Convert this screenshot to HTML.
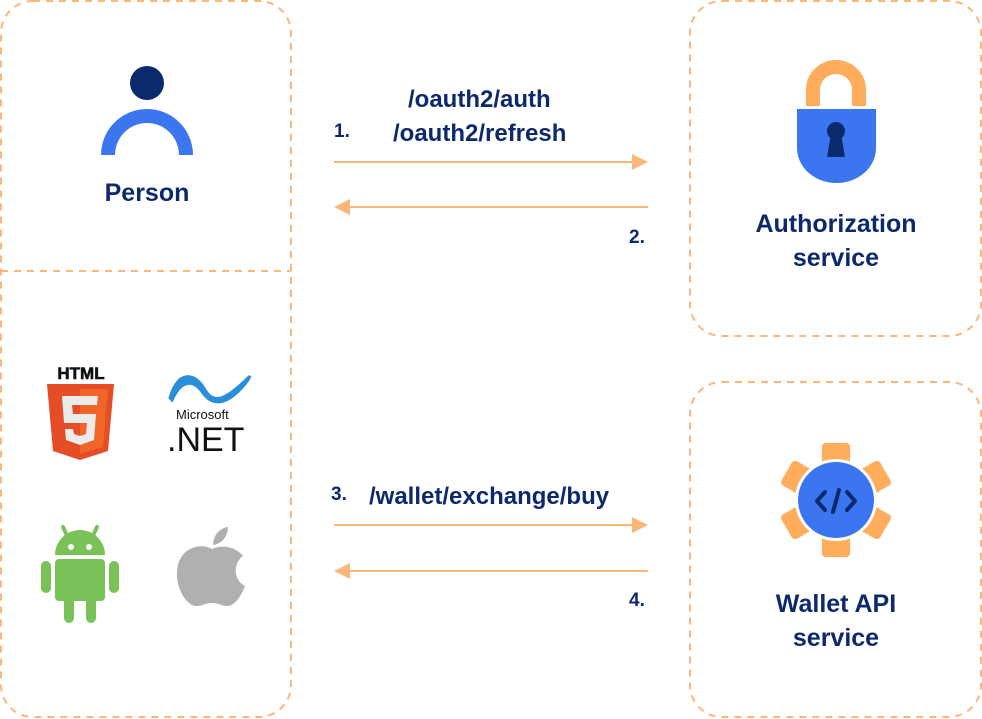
<!DOCTYPE html>
<html><head><style>
html,body{margin:0;padding:0;background:#fff;}
body{width:982px;height:719px;position:relative;overflow:hidden;font-family:"Liberation Sans",sans-serif;}
.t{position:absolute;color:#0c2a6b;font-weight:bold;font-size:25px;white-space:nowrap;}
.c{width:300px;text-align:center;}
</style></head><body>
<svg width="982" height="719" style="position:absolute;left:0;top:0">
<g fill="none" stroke="#fbb77a" stroke-width="2" stroke-dasharray="7,6">
<rect x="1" y="1" width="290" height="716" rx="32"/>
<line x1="1" y1="271" x2="291" y2="271"/>
<rect x="690" y="1" width="291" height="335" rx="32"/>
<rect x="690" y="382" width="291" height="335" rx="32"/>
</g>
<g stroke="#fbb77a" stroke-width="2" fill="#fbb77a">
<line x1="334" y1="162" x2="634" y2="162"/><polygon points="648,162 632,154 632,170" stroke="none"/>
<line x1="350" y1="207" x2="648" y2="207"/><polygon points="334,207 350,199 350,215" stroke="none"/>
<line x1="334" y1="525" x2="634" y2="525"/><polygon points="648,525 632,517 632,533" stroke="none"/>
<line x1="350" y1="571" x2="648" y2="571"/><polygon points="334,571 350,563 350,579" stroke="none"/>
</g>
<!-- person -->
<circle cx="147" cy="83" r="17" fill="#0a2a6e"/>
<path d="M101,155 A46,46 0 0 1 193,155 L179,155 A32,32 0 0 0 115,155 Z" fill="#3b75f0"/>
<!-- lock -->
<path d="M813,106 V90 A23,23 0 0 1 859,90 V106" fill="none" stroke="#ffad5c" stroke-width="14"/>
<path d="M797,109 H876 V148 A39.5,35 0 0 1 797,148 Z" fill="#3b75f0"/>
<circle cx="836" cy="131" r="9" fill="#0a2a6e"/>
<polygon points="831,134 841,134 845,157 827,157" fill="#0a2a6e"/>
<!-- gear -->
<g fill="#ffad5c">
<g transform="translate(836,500)">
<rect x="-14" y="-57" width="28" height="34" rx="4"/>
<rect x="-14" y="-57" width="28" height="34" rx="4" transform="rotate(60)"/>
<rect x="-14" y="-57" width="28" height="34" rx="4" transform="rotate(120)"/>
<rect x="-14" y="-57" width="28" height="34" rx="4" transform="rotate(180)"/>
<rect x="-14" y="-57" width="28" height="34" rx="4" transform="rotate(240)"/>
<rect x="-14" y="-57" width="28" height="34" rx="4" transform="rotate(300)"/>
</g></g>
<circle cx="836" cy="500" r="41" fill="#fff"/>
<circle cx="836" cy="500" r="38" fill="#3b75f0"/>
<g fill="none" stroke="#0a2a6e" stroke-width="4" stroke-linecap="round" stroke-linejoin="round">
<polyline points="825,492 817,501 825,510"/><polyline points="847,492 855,501 847,510"/><line x1="839" y1="490" x2="833" y2="512"/>
</g>
<!-- html5 -->
<text x="81" y="379" font-family="Liberation Sans" font-weight="900" font-size="17" text-anchor="middle" fill="#111" stroke="#111" stroke-width="0.6">HTML</text>
<polygon points="47,384 114,384 108,451 80,460 53,451" fill="#e44d26"/>
<polygon points="80,389 108,389 103,447 80,454" fill="#f16529"/>
<path d="M62,396 H98 L97,405 H72 L73,414 H96 L94,440 L80,445 L66,440 L65,429 H73 L74,434 L80,436 L86,434 L87,423 H64 Z" fill="#ebebeb"/>
<!-- .net -->
<path d="M170,398 C178,370 195,372 205,390 C214,405 226,400 250,376 L248,380 C230,404 214,408 203,393 C194,380 182,378 172,400 Z" fill="#2a8fd8" stroke="#2a8fd8" stroke-width="3"/>
<text x="176" y="419" font-family="Liberation Sans" font-size="13" fill="#111">Microsoft</text>
<text x="167" y="451" font-family="Liberation Sans" font-size="34" fill="#111">.NET</text>
<!-- android -->
<g fill="#78c257">
<path d="M55,555 A25,25 0 0 1 105,555 Z"/>
<line x1="63" y1="527" x2="69" y2="540" stroke="#78c257" stroke-width="4" stroke-linecap="round"/>
<line x1="97" y1="527" x2="91" y2="540" stroke="#78c257" stroke-width="4" stroke-linecap="round"/>
<rect x="55" y="559" width="50" height="42" rx="4"/>
<rect x="41" y="561" width="10" height="32" rx="5"/>
<rect x="109" y="561" width="10" height="32" rx="5"/>
<rect x="64" y="595" width="10" height="28" rx="5"/>
<rect x="86" y="595" width="10" height="28" rx="5"/>
</g>
<circle cx="71" cy="547" r="3" fill="#fff"/><circle cx="89" cy="547" r="3" fill="#fff"/>
<!-- apple -->
<path d="M212,549 C200,542 178,548 177,572 C176,590 188,607 197,606 C203,606 205,603 212,603 C219,603 221,606 227,606 C235,606 241,596 245,586 C233,580 233,563 243,556 C236,547 222,544 212,549 Z" fill="#b0b0b0"/>
<path d="M213,545 C213,535 220,528 228,527 C228,537 221,544 213,545 Z" fill="#b0b0b0"/>
</svg>
<div class="t c" style="left:-3px;top:179px;">Person</div>
<div class="t" style="left:408px;top:86px;font-size:24px">/oauth2/auth</div>
<div class="t" style="left:334px;top:121px;font-size:19px">1.</div>
<div class="t" style="left:393px;top:120px;font-size:24px">/oauth2/refresh</div>
<div class="t" style="left:629px;top:227px;font-size:19px">2.</div>
<div class="t c" style="left:686px;top:210px;">Authorization</div>
<div class="t c" style="left:686px;top:244px;">service</div>
<div class="t" style="left:331px;top:484px;font-size:19px">3.</div>
<div class="t" style="left:369px;top:483px;font-size:24px">/wallet/exchange/buy</div>
<div class="t" style="left:629px;top:590px;font-size:19px">4.</div>
<div class="t c" style="left:686px;top:590px;">Wallet API</div>
<div class="t c" style="left:686px;top:624px;">service</div>
</body></html>
